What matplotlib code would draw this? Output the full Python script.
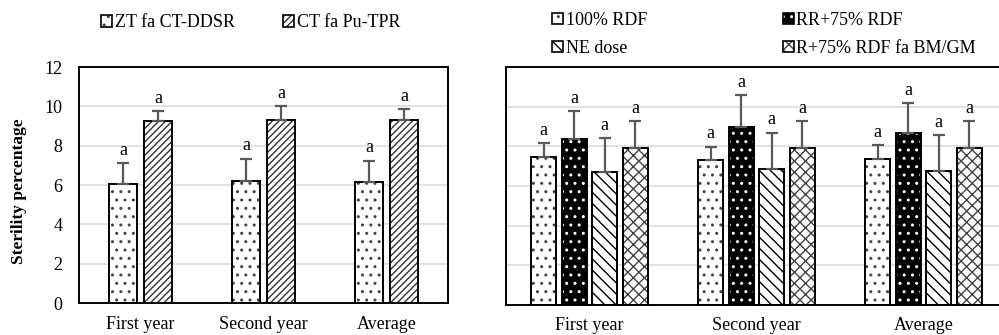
import matplotlib
matplotlib.use('Agg')
import matplotlib.pyplot as plt
from matplotlib.patches import Patch
from matplotlib.legend_handler import HandlerTuple
import numpy as np

plt.rcParams['font.family'] = ['Liberation Serif', 'DejaVu Serif']
plt.rcParams['font.size'] = 13
plt.rcParams['hatch.linewidth'] = 1.0

categories = ['First year', 'Second year', 'Average']

# left panel: tillage
left_labels = ['ZT fa CT-DDSR', 'CT fa Pu-TPR']
zt_vals = [6.04, 6.20, 6.14]
zt_err = [1.07, 1.14, 1.10]
ct_vals = [9.24, 9.32, 9.29]
ct_err = [0.52, 0.68, 0.56]

# right panel: nutrient management
right_labels = ['100% RDF', 'RR+75% RDF', 'NE dose', 'R+75% RDF fa BM/GM']
rdf_vals = [7.46, 7.31, 7.38]
rdf_err = [0.70, 0.68, 0.68]
rr_vals = [8.37, 9.00, 8.70]
rr_err = [1.42, 1.60, 1.48]
ne_vals = [6.71, 6.84, 6.76]
ne_err = [1.73, 1.86, 1.80]
bm_vals = [7.94, 7.94, 7.94]
bm_err = [1.33, 1.33, 1.33]

# (face, hatch colour, hatch)
styles_left = [('white', '#444444', '..'), ('white', '#333333', '/////')]
styles_right = [('white', '#444444', '..'), ('black', 'white', '..'),
                ('white', 'black', '\\\\\\'), ('white', '#444444', 'xxx')]

err_color = '#595959'
grid_color = '#d9d9d9'


def draw_bars(ax, xpos, vals, errs, style, width):
    face, hcol, hatch = style
    ax.bar(xpos, vals, width, color=face, edgecolor=hcol, hatch=hatch, lw=0, zorder=2)
    ax.bar(xpos, vals, width, fill=False, edgecolor='black', lw=1.4, zorder=3)
    ax.errorbar(xpos, vals, yerr=[np.zeros(len(vals)), errs], fmt='none',
                ecolor=err_color, elinewidth=1.6, capsize=4.5, capthick=1.6, zorder=4)
    for xp, v, e in zip(xpos, vals, errs):
        ax.annotate('a', (xp, v + e), xytext=(0, 3), textcoords='offset points',
                    ha='center', va='bottom', fontsize=13)


def style_axis(ax):
    ax.set_ylim(0, 12)
    ax.set_yticks(range(0, 13, 2))
    ax.set_xlim(-0.5, 2.5)
    ax.set_xticks(range(len(categories)))
    ax.set_xticklabels(categories)
    ax.yaxis.grid(True, color=grid_color, lw=1.1)
    ax.set_axisbelow(True)
    ax.tick_params(axis='both', length=0)
    ax.tick_params(axis='x', pad=9)
    ax.tick_params(axis='y', pad=12)
    for s in ax.spines.values():
        s.set_linewidth(1.4)
        s.set_color('black')


def proxy(style):
    face, hcol, hatch = style
    return (Patch(facecolor=face, edgecolor=hcol, hatch=hatch, lw=0),
            Patch(fill=False, edgecolor='black', lw=1.2))


fig = plt.figure(figsize=(9.99, 3.35), dpi=100)
ax1 = fig.add_axes([0.0791, 0.0955, 0.3694, 0.7045])
ax2 = fig.add_axes([0.5065, 0.0896, 0.5015, 0.7100])

x = np.arange(len(categories))

w1 = 0.23
draw_bars(ax1, x - 0.143, zt_vals, zt_err, styles_left[0], w1)
draw_bars(ax1, x + 0.143, ct_vals, ct_err, styles_left[1], w1)
style_axis(ax1)

w2 = 0.15
offs = [-0.275, -0.092, 0.092, 0.275]
right_vals = [rdf_vals, rr_vals, ne_vals, bm_vals]
right_errs = [rdf_err, rr_err, ne_err, bm_err]
for o, v, e, st in zip(offs, right_vals, right_errs, styles_right):
    draw_bars(ax2, x + o, v, e, st, w2)
style_axis(ax2)
ax2.set_yticklabels([])

fig.text(0.019, 0.43, 'Sterility percentage', rotation=90, fontweight='bold',
         fontsize=12.5, ha='center', va='center')

fig.legend([proxy(s) for s in styles_left], left_labels, loc='center',
           bbox_to_anchor=(0.251, 0.932), ncol=2, frameon=False,
           handlelength=0.6, handleheight=0.6, handletextpad=0.15,
           columnspacing=2.7, handler_map={tuple: HandlerTuple(ndivide=1)})

order = [0, 2, 1, 3]
fig.legend([proxy(styles_right[i]) for i in order], [right_labels[i] for i in order],
           loc='center', bbox_to_anchor=(0.765, 0.897), ncol=2, frameon=False,
           handlelength=0.6, handleheight=0.6, handletextpad=0.15,
           columnspacing=7.5, labelspacing=0.6,
           handler_map={tuple: HandlerTuple(ndivide=1)})

fig.savefig('out.png', dpi=100)
